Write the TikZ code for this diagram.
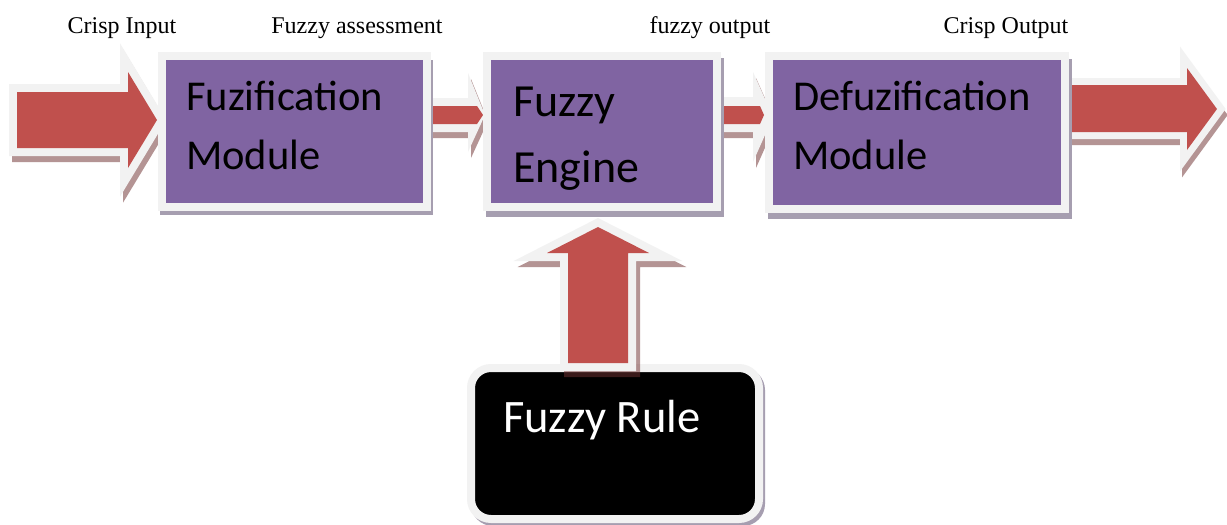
\documentclass[tikz,border=0pt]{standalone}
\usepackage{fontspec}
\setmainfont{Liberation Serif}
\newfontfamily\calibfont{Carlito}
\definecolor{boxpurple}{RGB}{128,100,162}
\definecolor{arrred}{RGB}{192,80,77}
\definecolor{glow}{RGB}{242,242,242}
\definecolor{boxshadow}{RGB}{166,158,176}
\definecolor{arrshadow}{RGB}{112,50,50}
\begin{document}
\begin{tikzpicture}[x=1pt,y=-1pt,
  glowwidth/.store in=\glowwidth, glowwidth=16pt,
  redarrow/.style={fill=arrred, preaction={draw=glow, line width=#1, line join=miter, miter limit=10}},
  redarrow/.default=16pt,
  shadearrow/.style={fill=arrshadow, draw=arrshadow, line width=#1, line join=miter, miter limit=10},
  shadearrow/.default=16pt,
  shadegroup/.style={transparency group, opacity=0.52},
  modbox/.style={rectangle, fill=boxpurple, draw=glow, line width=8pt, inner sep=0pt},
  rulebox/.style={rectangle, rounded corners=20pt, fill=black, draw=glow, line width=8pt, inner sep=0pt},
  modtext/.style={anchor=base west, inner sep=0pt, font=\calibfont\fontsize{42.5}{42.5}\selectfont},
  enginetext/.style={anchor=base west, inner sep=0pt, font=\calibfont\fontsize{46}{46}\selectfont},
  ruletext/.style={anchor=base west, inner sep=0pt, text=white, font=\calibfont\fontsize{46.5}{46.5}\selectfont},
  toplabel/.style={anchor=base, inner sep=0pt, font=\fontsize{24}{24}\selectfont}]
\useasboundingbox[fill=white] (0,0) rectangle (1227,525);

% input arrow
\begin{scope}[shadegroup, shift={(3,6)}]
  \path[shadearrow] (17,92) -- (128,92) -- (128,72) -- (157,120) -- (128,168) -- (128,148) -- (17,148) -- cycle;
\end{scope}
\path[redarrow] (17,92) -- (128,92) -- (128,72) -- (157,120) -- (128,168) -- (128,148) -- (17,148) -- cycle;

% small arrow 1 -> 2
\begin{scope}[shadegroup, shift={(3,6)}]
  \fill[arrshadow] (425,98) -- (468,98) -- (468,73) -- (485,115) -- (468,152) -- (468,132) -- (425,132) -- cycle;
\end{scope}
\fill[glow] (425,98) -- (468,98) -- (468,73) -- (485,115) -- (468,152) -- (468,132) -- (425,132) -- cycle;
\fill[arrred] (431,106) -- (477,106) -- (483,115) -- (477,124) -- (431,124) -- cycle;

% small arrow 2 -> 3
\begin{scope}[shadegroup, shift={(3,6)}]
  \fill[arrshadow] (713,97) -- (753,97) -- (753,72) -- (773,117) -- (753,162) -- (753,132) -- (713,132) -- cycle;
\end{scope}
\fill[glow] (713,97) -- (753,97) -- (753,72) -- (773,117) -- (753,162) -- (753,132) -- (713,132) -- cycle;
\fill[arrred] (720,106) -- (760,106) -- (764,115) -- (760,124) -- (720,124) -- cycle;

% output arrow
\begin{scope}[shadegroup, shift={(2,6)}]
  \path[shadearrow=14pt] (1070,85) -- (1187,85) -- (1187,68) -- (1217,109) -- (1187,150) -- (1187,132) -- (1070,132) -- cycle;
\end{scope}
\path[redarrow=14pt] (1070,85) -- (1187,85) -- (1187,68) -- (1217,109) -- (1187,150) -- (1187,132) -- (1070,132) -- cycle;

% module boxes
\fill[boxshadow] (160,60) rectangle (433,215);
\fill[boxshadow] (486,58) rectangle (724,217);
\fill[boxshadow] (768,59) rectangle (1072,219);
\node[modbox, minimum width=265pt, minimum height=151pt] (fuz) at (294.5,131.5) {};
\node[modbox, minimum width=230pt, minimum height=151pt] (eng) at (602,131.5) {};
\node[modbox, minimum width=296pt, minimum height=153pt] (defuz) at (917,132.5) {};

% rule box
\fill[boxshadow, rounded corners=22pt] (471,368) rectangle (765,526);
\node[rulebox, minimum width=288pt, minimum height=151pt] (rule) at (615,443.5) {};

% up arrow
\begin{scope}[shadegroup, shift={(4,6)}]
  \path[shadearrow] (568,363) -- (568,253) -- (547,253) -- (598,227) -- (649,253) -- (628,253) -- (628,363) -- cycle;
\end{scope}
\path[redarrow] (568,363) -- (568,253) -- (547,253) -- (598,227) -- (649,253) -- (628,253) -- (628,363) -- cycle;

% texts
\node[modtext] (fuz1) at (186,110) {Fuzification};
\node[modtext] (fuz2) at (186,169) {Module};
\node[enginetext] (eng1) at (513,116) {Fuzzy};
\node[enginetext] (eng2) at (513,182) {Engine};
\node[modtext] (def1) at (793,110) {Defuzification};
\node[modtext] (def2) at (793,169) {Module};
\node[ruletext] (rule1) at (503,432) {Fuzzy Rule};

\node[toplabel] (lab1) at (122,33) {Crisp Input};
\node[toplabel] (lab2) at (357,33) {Fuzzy assessment};
\node[toplabel] (lab3) at (710,33) {fuzzy output};
\node[toplabel] (lab4) at (1006,33) {Crisp Output};
\end{tikzpicture}
\end{document}
